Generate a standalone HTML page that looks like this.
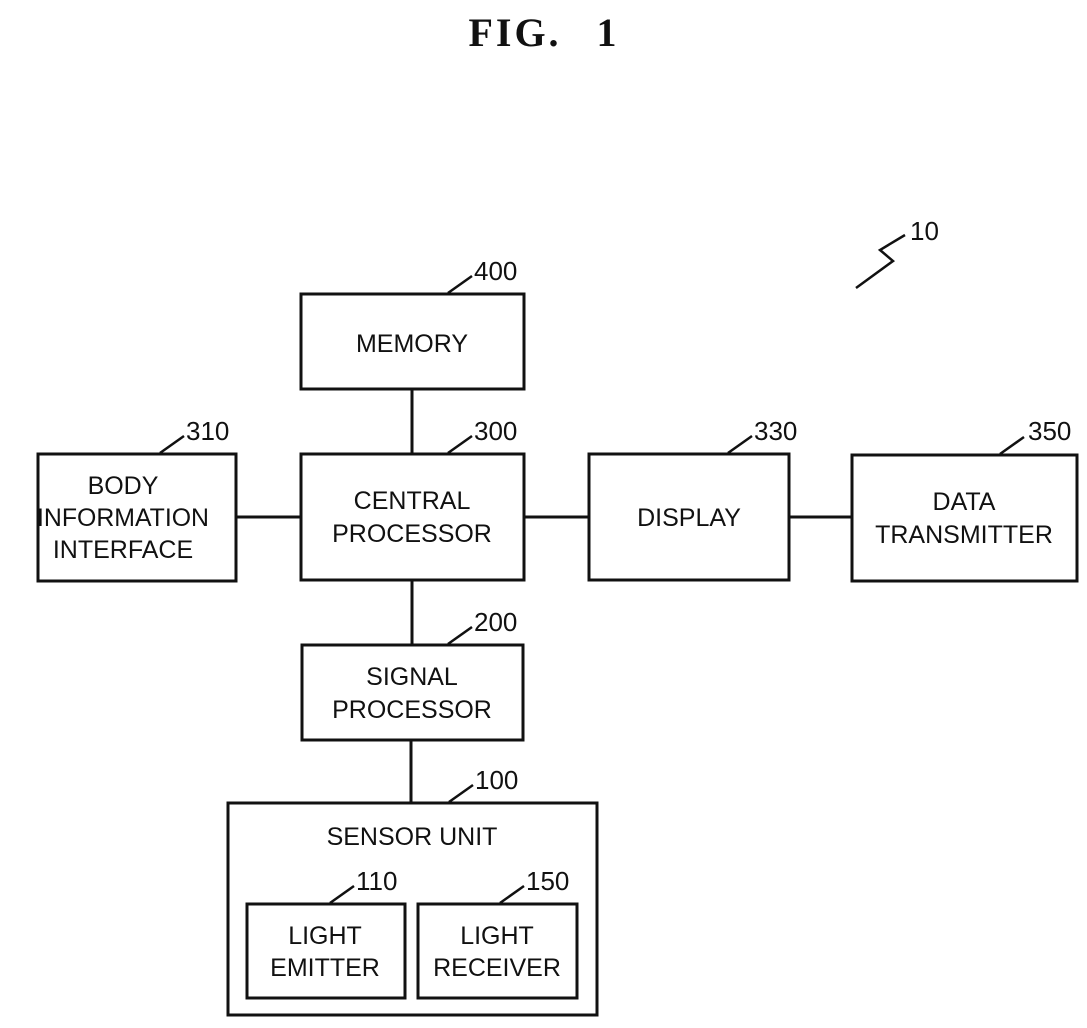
<!DOCTYPE html>
<html><head><meta charset="utf-8"><style>
html,body{margin:0;padding:0;background:#fff;}
svg{display:block;}
text{font-family:"Liberation Sans",sans-serif;font-size:25px;fill:#111;text-anchor:middle;}
.n{text-anchor:start;font-size:26px;}
</style></head><body>
<svg width="1087" height="1028" viewBox="0 0 1087 1028" xmlns="http://www.w3.org/2000/svg">
<text x="544" y="46" style="font-family:'Liberation Serif',serif;font-size:40px;font-weight:bold;letter-spacing:3px;word-spacing:22px;">FIG. 1</text>
<g fill="none" stroke="#111" stroke-width="3">
<rect x="301" y="294" width="223" height="95"/>
<rect x="38" y="454" width="198" height="127"/>
<rect x="301" y="454" width="223" height="126"/>
<rect x="589" y="454" width="200" height="126"/>
<rect x="852" y="455" width="225" height="126"/>
<rect x="302" y="645" width="221" height="95"/>
<rect x="228" y="803" width="369" height="212"/>
<rect x="247" y="904" width="158" height="94"/>
<rect x="418" y="904" width="159" height="94"/>
<line x1="412" y1="389" x2="412" y2="454"/>
<line x1="412" y1="580" x2="412" y2="645"/>
<line x1="411" y1="740" x2="411" y2="803"/>
<line x1="236" y1="517" x2="301" y2="517"/>
<line x1="524" y1="517" x2="589" y2="517"/>
<line x1="789" y1="517" x2="852" y2="517"/>
<g stroke-width="2.5">
<line x1="448" y1="293" x2="472" y2="276"/>
<line x1="448" y1="453" x2="472" y2="436"/>
<line x1="160" y1="453" x2="184" y2="436"/>
<line x1="728" y1="453" x2="752" y2="436"/>
<line x1="1000" y1="454" x2="1024" y2="437"/>
<line x1="448" y1="644" x2="472" y2="627"/>
<line x1="449" y1="802" x2="473" y2="785"/>
<line x1="330" y1="903" x2="354" y2="886"/>
<line x1="500" y1="903" x2="524" y2="886"/>
<path d="M905 235 L880 250 L893 261 L856 288"/>
</g>
</g>
<text class="n" x="474" y="280">400</text>
<text class="n" x="474" y="440">300</text>
<text class="n" x="186" y="440">310</text>
<text class="n" x="754" y="440">330</text>
<text class="n" x="1028" y="440">350</text>
<text class="n" x="474" y="631">200</text>
<text class="n" x="475" y="789">100</text>
<text class="n" x="356" y="890">110</text>
<text class="n" x="526" y="890">150</text>
<text class="n" x="910" y="240">10</text>
<text x="412" y="352">MEMORY</text>
<text x="123" y="494">BODY</text>
<text x="123" y="526" textLength="172" lengthAdjust="spacingAndGlyphs">INFORMATION</text>
<text x="123" y="558">INTERFACE</text>
<text x="412" y="509">CENTRAL</text>
<text x="412" y="542">PROCESSOR</text>
<text x="689" y="526">DISPLAY</text>
<text x="964" y="510">DATA</text>
<text x="964" y="543">TRANSMITTER</text>
<text x="412" y="685">SIGNAL</text>
<text x="412" y="718">PROCESSOR</text>
<text x="412" y="845">SENSOR UNIT</text>
<text x="325" y="944">LIGHT</text>
<text x="325" y="976">EMITTER</text>
<text x="497" y="944">LIGHT</text>
<text x="497" y="976">RECEIVER</text>
</svg>
</body></html>
